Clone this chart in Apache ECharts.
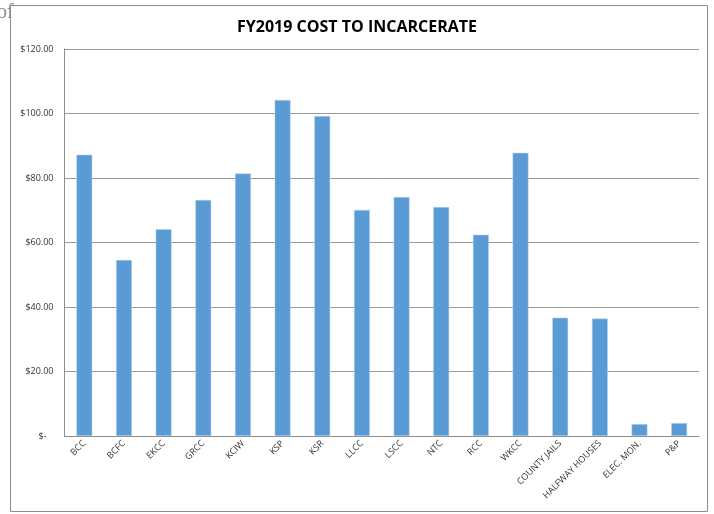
<!DOCTYPE html>
<html><head><meta charset="utf-8">
<script src="https://cdn.jsdelivr.net/npm/echarts@6/dist/echarts.min.js"></script>
<style>html,body{margin:0;padding:0;background:#fff}#c{width:714px;height:514px}</style>
</head><body><div id="c"></div>
<script>
var categories = ['BCC','BCFC','EKCC','GRCC','KCIW','KSP','KSR','LLCC','LSCC','NTC','RCC','WKCC','COUNTY JAILS','HALFWAY HOUSES','ELEC. MON.','P&P'];
var costs = [87.2, 54.6, 64.1, 73.2, 81.4, 104.2, 99.2, 70.1, 74.1, 71.0, 62.4, 87.8, 36.7, 36.4, 3.7, 4.0];
var yTicks = [0, 20, 40, 60, 80, 100, 120];

var chart = echarts.init(document.getElementById('c'));
chart.setOption({
  animation: false,
  backgroundColor: '#fff',
  title: {
    text: 'FY2019 COST TO INCARCERATE',
    left: 'center', top: 14,
    textStyle: {fontFamily: 'Open Sans', fontWeight: 'bold', fontSize: 16, color: '#000'}
  },
  graphic: [
    {type: 'text', left: -3, top: 3, z: 0, style: {text: 'of', font: '20px "Liberation Serif"', fill: '#8a8a8a'}},
    {type: 'rect', shape: {x: 10.5, y: 5.5, width: 697, height: 506}, style: {fill: '#fff', stroke: '#8c8c8c', lineWidth: 1}, z: 1, silent: true}
  ],
  grid: {left: 64.5, right: 15, top: 49, bottom: 78, z: 5},
  xAxis: {
    type: 'category', data: categories, z: 5,
    axisLine: {lineStyle: {color: '#8c8c8c', width: 1}},
    axisTick: {show: false},
    axisLabel: {interval: 0, rotate: 45, fontSize: 9, fontFamily: 'Open Sans', color: '#333', margin: 6}
  },
  yAxis: {
    type: 'value', min: yTicks[0], max: yTicks[yTicks.length - 1], interval: 20, z: 5,
    axisLine: {show: true, lineStyle: {color: '#8c8c8c', width: 1}},
    axisTick: {show: false},
    splitLine: {lineStyle: {color: '#9a9a9a', width: 1}},
    axisLabel: {
      fontSize: 9, fontFamily: 'Open Sans', color: '#333', margin: 11,
      formatter: function (v) { return v === 0 ? '$-   ' : '$' + v.toFixed(2); }
    }
  },
  series: [{
    type: 'bar', data: costs, barWidth: '40%', z: 6,
    itemStyle: {color: '#5b9bd5', borderColor: '#bcd6ef', borderWidth: 0.5}
  }]
});
</script></body></html>
